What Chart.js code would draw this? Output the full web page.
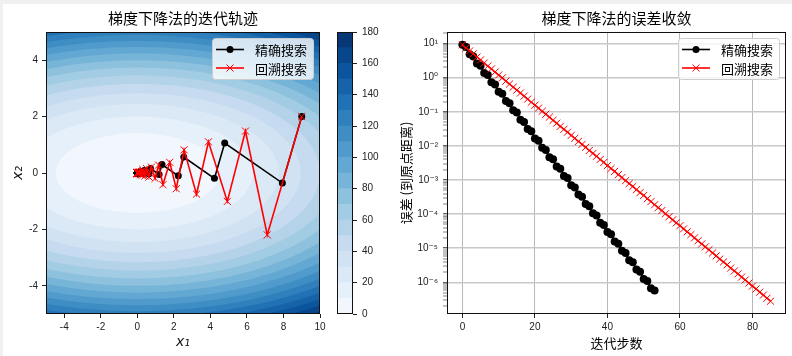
<!DOCTYPE html>
<html>
<head>
<meta charset="utf-8">
<script src="https://cdn.jsdelivr.net/npm/chart.js@4.4.1/dist/chart.umd.min.js"></script>
<style>
    body { margin: 0; background: #fff; }
    #wrap { position: relative; width: 792px; height: 356px; overflow: hidden; background: #fff; }
    #wrap canvas { position: absolute; top: 0; }
    #pathChart { left: 0; }
    #barChart { left: 330px; }
    #errChart { left: 400px; }
    .edge { position: absolute; background: #f0f0f0; }
</style>
</head>
<body>
<div id="wrap">
    <canvas id="pathChart" width="330" height="356"></canvas>
    <canvas id="barChart" width="70" height="356"></canvas>
    <canvas id="errChart" width="392" height="356"></canvas>
    <div class="edge" style="left:0;top:0;width:792px;height:4px"></div>
    <div class="edge" style="left:0;top:0;width:3px;height:356px"></div>
</div>
<script>
// series labels
const exactLabel = '精确搜索';
const backtrackLabel = '回溯搜索';

// iterates of exact line search (x1, x2)
const exactX = [9, 7.9392, 4.7832, 4.2194, 2.5421, 2.2425, 1.3511, 1.1918, 0.71805, 0.63342,
    0.38162, 0.33664, 0.20282, 0.17892, 0.10779, 0.095088, 0.057288, 0.050536, 0.030447, 0.026859,
    0.016182, 0.014274, 0.0086000, 0.0075864, 0.0045707, 0.0040319, 0.0024292, 0.0021428, 0.0012910, 0.0011389,
    6.8614e-4, 6.0526e-4, 3.6466e-4, 3.2168e-4, 1.9381e-4, 1.7096e-4, 1.0300e-4, 9.0863e-5, 5.4743e-5, 4.8290e-5,
    2.9094e-5, 2.5665e-5, 1.5463e-5, 1.3640e-5, 8.2179e-6, 7.2492e-6, 4.3675e-6, 3.8527e-6, 2.3212e-6, 2.0476e-6,
    1.2337e-6, 1.0882e-6, 6.5565e-7, 5.7837e-7];
const exactY = [2, -0.35727, 1.0629, -0.18988, 0.56492, -0.10091, 0.30024, -0.053632, 0.15957, -0.028504,
    0.084804, -0.015149, 0.045071, -0.0080511, 0.023954, -0.0042790, 0.012731, -0.0022741, 0.0067660, -0.0012086,
    0.0035959, -6.4235e-4, 0.0019111, -3.4139e-4, 0.0010157, -1.8144e-4, 5.3981e-4, -9.6428e-5, 2.8689e-4, -5.1249e-5,
    1.5248e-4, -2.7237e-5, 8.1036e-5, -1.4476e-5, 4.3068e-5, -7.6934e-6, 2.2889e-5, -4.0888e-6, 1.2165e-5, -2.1731e-6,
    6.4653e-6, -1.1549e-6, 3.4361e-6, -6.1380e-7, 1.8262e-6, -3.2622e-7, 9.7056e-7, -1.7337e-7, 5.1583e-7, -9.2142e-8,
    2.7415e-7, -4.8971e-8, 1.4570e-7, -2.6027e-8];

// iterates of backtracking line search (x1, x2)
const backX = [9, 7.1126, 5.9193, 4.9262, 3.8931, 3.2399, 2.5605, 2.1309, 1.7734, 1.4015,
    1.1664, 0.97067, 0.76711, 0.63841, 0.50453, 0.41988, 0.34944, 0.27615, 0.22982, 0.18163,
    0.15115, 0.12580, 0.099414, 0.082735, 0.068854, 0.054414, 0.045285, 0.035788, 0.029784, 0.024787,
    0.019589, 0.016303, 0.012884, 0.010722, 0.0089233, 0.0070520, 0.0058689, 0.0048843, 0.0038600, 0.0032124,
    0.0025387, 0.0021128, 0.0017583, 0.0013896, 0.0011565, 9.1396e-4, 7.6063e-4, 6.3302e-4, 5.0027e-4, 4.1634e-4,
    3.4649e-4, 2.7383e-4, 2.2789e-4, 1.8010e-4, 1.4988e-4, 1.2473e-4, 9.8572e-5, 8.2034e-5, 6.4830e-5, 5.3953e-5,
    4.4901e-5, 3.5485e-5, 2.9532e-5, 2.4577e-5, 1.9423e-5, 1.6164e-5, 1.2774e-5, 1.0631e-5, 8.8474e-6, 6.9920e-6,
    5.8189e-6, 4.5986e-6, 3.8271e-6, 3.1850e-6, 2.5171e-6, 2.0948e-6, 1.7434e-6, 1.3778e-6, 1.1466e-6, 9.0614e-7,
    7.5412e-7, 6.2760e-7, 4.9598e-7, 4.1277e-7, 3.2621e-7, 2.7148e-7];
const backY = [2, -2.1943, 1.4872, -1.0079, 1.1058, -0.7494, 0.8223, -0.5573, 0.3777, -0.4144,
    0.2808, -0.1903, 0.2088, -0.1415, 0.1553, -0.1052, 0.0713, -0.0782, 0.0530, -0.0582,
    0.0394, -0.0267, 0.0293, -0.0199, 0.0135, -0.0148, 0.010014, -0.010987, 0.0074463, -0.0050465,
    0.0055370, -0.0037527, 0.0041173, -0.0027903, 0.0018911, -0.0020749, 0.0014062, -9.5302e-4, 1.0456e-3, -7.0862e-4,
    7.7750e-4, -5.2693e-4, 3.5711e-4, -3.9180e-4, 2.6556e-4, -2.9135e-4, 1.9746e-4, -1.3383e-4, 1.4683e-4, -9.9509e-5,
    6.7444e-5, -7.3994e-5, 5.0147e-5, -5.5024e-5, 3.7289e-5, -2.5270e-5, 2.7724e-5, -1.8791e-5, 2.0616e-5, -1.3972e-5,
    9.4696e-6, -1.0390e-5, 7.0413e-6, -4.7724e-6, 5.2357e-6, -3.5482e-6, 3.8933e-6, -2.6384e-6, 1.7881e-6, -1.9617e-6,
    1.3296e-6, -1.4588e-6, 9.8869e-7, -6.7009e-7, 7.3520e-7, -4.9825e-7, 3.3771e-7, -3.7049e-7, 2.5107e-7, -2.7550e-7,
    1.8670e-7, -1.2654e-7, 1.3882e-7, -9.4087e-8, 1.0323e-7, -6.9964e-8];

// distance to the origin per iteration
const exactError = [9.2195, 7.9473, 4.8999, 4.2237, 2.6041, 2.2448, 1.3840, 1.1930, 0.73556, 0.63406,
    0.39093, 0.33698, 0.20777, 0.17910, 0.11042, 0.095183, 0.058686, 0.050587, 0.031190, 0.026886,
    0.016576, 0.014289, 0.0088098, 0.0075941, 0.0046821, 0.0040360, 0.0024884, 0.0021450, 0.0013225, 0.0011400,
    7.0288e-4, 6.0588e-4, 3.7356e-4, 3.2201e-4, 1.9853e-4, 1.7114e-4, 1.0552e-4, 9.0954e-5, 5.6078e-5, 4.8339e-5,
    2.9804e-5, 2.5691e-5, 1.5840e-5, 1.3654e-5, 8.4184e-6, 7.2566e-6, 4.4741e-6, 3.8567e-6, 2.3778e-6, 2.0497e-6,
    1.2637e-6, 1.0893e-6, 6.7165e-7, 5.7896e-7];
const backError = [9.2195, 7.4433, 6.1032, 5.0282, 4.0471, 3.3255, 2.6893, 2.2026, 1.8132, 1.4615,
    1.1997, 0.98915, 0.79502, 0.65391, 0.52788, 0.43287, 0.35664, 0.28703, 0.23586, 0.19072,
    0.15621, 0.12860, 0.10365, 0.085088, 0.070159, 0.056385, 0.046379, 0.037437, 0.030701, 0.025295,
    0.020357, 0.016729, 0.013526, 0.011079, 0.0091215, 0.0073509, 0.0060350, 0.0049764, 0.0039991, 0.0032896,
    0.0026551, 0.0021775, 0.0017942, 0.0014438, 0.0011866, 9.5927e-4, 7.8585e-4, 6.4702e-4, 5.2138e-4, 4.2807e-4,
    3.5299e-4, 2.8365e-4, 2.3334e-4, 1.8832e-4, 1.5445e-4, 1.2726e-4, 1.0240e-4, 8.4159e-5, 6.8029e-5, 5.5733e-5,
    4.5889e-5, 3.6975e-5, 3.0360e-5, 2.5036e-5, 2.0116e-5, 1.6549e-5, 1.3354e-5, 1.0954e-5, 9.0263e-6, 7.2620e-6,
    5.9689e-6, 4.8244e-6, 3.9527e-6, 3.2547e-6, 2.6223e-6, 2.1532e-6, 1.7758e-6, 1.4267e-6, 1.1738e-6, 9.4710e-7,
    7.7689e-7, 6.4023e-7, 5.1504e-7, 4.2336e-7, 3.4216e-7, 2.8035e-7];

// contour levels of f = 0.5*x1^2 + 5*x2^2 and their Blues colours
const quadA = 0.5;
const quadB = 5;
const bandLevels = [0, 10, 20, 30, 40, 50, 60, 70, 80, 90, 100, 110, 120, 130, 140, 150, 160, 170, 180];
const bandColors = ['rgb(241,247,253)', 'rgb(230,240,250)', 'rgb(219,233,246)', 'rgb(209,226,243)',
    'rgb(198,219,239)', 'rgb(180,211,233)', 'rgb(162,204,227)', 'rgb(141,193,221)', 'rgb(118,180,216)',
    'rgb(98,168,210)', 'rgb(80,155,203)', 'rgb(62,142,196)', 'rgb(48,128,189)', 'rgb(33,113,181)',
    'rgb(22,99,170)', 'rgb(11,85,159)', 'rgb(8,70,140)', 'rgb(8,55,118)'];

// tick labels
const pathXTicks = [-4, -2, 0, 2, 4, 6, 8, 10];
const pathYTicks = [-4, -2, 0, 2, 4];
const colorbarTicks = [0, 20, 40, 60, 80, 100, 120, 140, 160, 180];
const iterTicks = [0, 20, 40, 60, 80];
const logTickValues = [1e-6, 1e-5, 1e-4, 1e-3, 1e-2, 1e-1, 1, 10];
const logTickLabels = ['10⁻⁶', '10⁻⁵', '10⁻⁴', '10⁻³', '10⁻²', '10⁻¹', '10⁰', '10¹'];

const CJK_FONT = '"Noto Sans CJK SC", sans-serif';
const TICK_FAMILY = "'Liberation Sans', 'DejaVu Sans', sans-serif";
const tickFont = { family: TICK_FAMILY, size: 10 };

function drawMarker(ctx, marker, x, y, color) {
    ctx.save();
    if (marker === 'circle') {
        ctx.fillStyle = color;
        ctx.beginPath();
        ctx.arc(x, y, 3.5, 0, Math.PI * 2);
        ctx.fill();
    } else {
        ctx.strokeStyle = color;
        ctx.lineWidth = 1;
        ctx.beginPath();
        ctx.moveTo(x - 3.5, y - 3.5); ctx.lineTo(x + 3.5, y + 3.5);
        ctx.moveTo(x - 3.5, y + 3.5); ctx.lineTo(x + 3.5, y - 3.5);
        ctx.stroke();
    }
    ctx.restore();
}

function drawLegend(chart) {
    const ctx = chart.ctx;
    const a = chart.chartArea;
    const w = 101, h = 41;
    const x = Math.round(a.right - 7 - w), y = Math.round(a.top + 6);
    ctx.save();
    ctx.fillStyle = 'rgba(255,255,255,0.8)';
    ctx.strokeStyle = '#cccccc';
    ctx.lineWidth = 1;
    ctx.beginPath();
    ctx.roundRect(x + 0.5, y + 0.5, w, h, 3);
    ctx.fill();
    ctx.stroke();
    chart.data.datasets.forEach(function(ds, i) {
        const cy = y + 11.5 + i * 18.5;
        ctx.strokeStyle = ds.borderColor;
        ctx.lineWidth = 1.6;
        ctx.beginPath();
        ctx.moveTo(x + 4, cy);
        ctx.lineTo(x + 32, cy);
        ctx.stroke();
        drawMarker(ctx, ds.pointStyle === 'circle' ? 'circle' : 'cross', x + 18, cy, ds.borderColor);
        ctx.fillStyle = '#000';
        ctx.font = '13px ' + CJK_FONT;
        ctx.textAlign = 'left';
        ctx.textBaseline = 'middle';
        ctx.fillText(ds.label, x + 43, cy + 1);
    });
    ctx.restore();
}

// frame, title and legend on top of each panel
const panelDecor = {
    id: 'panelDecor',
    afterDraw: function(chart, args, opts) {
        const ctx = chart.ctx;
        const a = chart.chartArea;
        ctx.save();
        ctx.strokeStyle = '#111';
        ctx.lineWidth = 1;
        ctx.strokeRect(a.left + 0.5, a.top + 0.5, a.right - a.left - 1, a.bottom - a.top - 1);
        if (opts.title) {
            ctx.fillStyle = '#000';
            ctx.font = '15px ' + CJK_FONT;
            ctx.textAlign = 'center';
            ctx.textBaseline = 'middle';
            ctx.fillText(opts.title, (a.left + a.right) / 2, 18);
        }
        ctx.restore();
        if (opts.legend) drawLegend(chart);
    }
};

// filled contours of the quadratic under the iterates
const contourFill = {
    id: 'contourFill',
    beforeDatasetsDraw: function(chart) {
        const ctx = chart.ctx;
        const a = chart.chartArea;
        const xs = chart.scales.x, ys = chart.scales.y;
        ctx.save();
        ctx.beginPath();
        ctx.rect(a.left, a.top, a.right - a.left, a.bottom - a.top);
        ctx.clip();
        ctx.fillStyle = bandColors[bandColors.length - 1];
        ctx.fillRect(a.left, a.top, a.right - a.left, a.bottom - a.top);
        const cx = xs.getPixelForValue(0), cy = ys.getPixelForValue(0);
        for (let i = bandLevels.length - 2; i >= 1; i--) {
            const L = bandLevels[i];
            const rx = Math.abs(xs.getPixelForValue(Math.sqrt(L / quadA)) - cx);
            const ry = Math.abs(ys.getPixelForValue(Math.sqrt(L / quadB)) - cy);
            ctx.fillStyle = bandColors[i - 1];
            ctx.beginPath();
            ctx.ellipse(cx, cy, rx, ry, 0, 0, Math.PI * 2);
            ctx.fill();
        }
        ctx.restore();
    }
};

function toPoints(xs, ys) {
    return xs.map(function(v, i) { return { x: v, y: ys[i] }; });
}

function tickGrid() {
    return { drawOnChartArea: false, drawTicks: true, tickLength: 4, color: '#222', tickColor: '#222' };
}

const commonOptions = {
    animation: false,
    responsive: false,
    devicePixelRatio: 1,
    events: []
};

// left panel: iterates over the contour plot
new Chart(document.getElementById('pathChart'), {
    type: 'scatter',
    data: {
        datasets: [{
            label: exactLabel,
            data: toPoints(exactX, exactY),
            showLine: true,
            borderColor: '#000000',
            backgroundColor: '#000000',
            borderWidth: 1.6,
            pointStyle: 'circle',
            pointRadius: 3.5,
            pointBorderWidth: 0,
            order: 2
        }, {
            label: backtrackLabel,
            data: toPoints(backX, backY),
            showLine: true,
            borderColor: '#ff0000',
            backgroundColor: '#ff0000',
            borderWidth: 1.6,
            pointStyle: 'crossRot',
            pointRadius: 5,
            pointBorderWidth: 1,
            order: 1
        }]
    },
    options: Object.assign({}, commonOptions, {
        layout: { padding: { left: 0, right: 10, top: 32, bottom: 0 } },
        plugins: {
            legend: { display: false },
            tooltip: { enabled: false },
            panelDecor: { title: '梯度下降法的迭代轨迹', legend: true }
        },
        scales: {
            x: {
                type: 'linear', min: -5, max: 10,
                afterBuildTicks: function(s) { s.ticks = pathXTicks.map(function(v) { return { value: v }; }); },
                afterFit: function(s) { s.height = 42; },
                ticks: { font: tickFont, color: '#222', padding: 3, maxRotation: 0 },
                grid: tickGrid(),
                border: { display: false },
                title: { display: true, text: 'x₁', color: '#111', font: { family: "'DejaVu Sans'", size: 14, style: 'italic' }, padding: { top: 0, bottom: 5 } }
            },
            y: {
                type: 'linear', min: -5, max: 5,
                afterBuildTicks: function(s) { s.ticks = pathYTicks.map(function(v) { return { value: v }; }); },
                afterFit: function(s) { s.width = 46; },
                ticks: { font: tickFont, color: '#222', padding: 4 },
                grid: tickGrid(),
                border: { display: false },
                title: { display: true, text: 'x₂', color: '#111', font: { family: "'DejaVu Sans'", size: 14, style: 'italic' }, padding: { top: 10, bottom: 0 } }
            }
        }
    }),
    plugins: [contourFill, panelDecor]
});

// colour bar as stacked cells
new Chart(document.getElementById('barChart'), {
    type: 'bar',
    data: {
        labels: [''],
        datasets: bandColors.map(function(c, i) {
            return {
                data: [bandLevels[i + 1] - bandLevels[i]],
                backgroundColor: c,
                borderWidth: 0,
                barPercentage: 1,
                categoryPercentage: 1
            };
        })
    },
    options: Object.assign({}, commonOptions, {
        layout: { padding: { left: 7, right: 0, top: 32, bottom: 42 } },
        plugins: { legend: { display: false }, tooltip: { enabled: false }, panelDecor: {} },
        scales: {
            x: { display: false, stacked: true },
            y: {
                stacked: true, position: 'right', min: 0, max: 180,
                afterBuildTicks: function(s) { s.ticks = colorbarTicks.map(function(v) { return { value: v }; }); },
                afterFit: function(s) { s.width = 47; },
                ticks: { font: tickFont, color: '#222', padding: 5 },
                grid: tickGrid(),
                border: { display: false }
            }
        }
    }),
    plugins: [panelDecor]
});

// right panel: error against iteration on a log axis
const errMin = 1.18e-7;
const errMax = 21.9;
const logTicks = [];
for (let e = -7; e <= 1; e++) {
    for (let s = 1; s <= 9; s++) {
        const v = s * Math.pow(10, e);
        if (v < errMin || v > errMax) continue;
        const idx = logTickValues.findIndex(function(t) { return Math.abs(t - v) / t < 1e-9; });
        logTicks.push({ value: v, major: s === 1, label: idx >= 0 ? logTickLabels[idx] : '' });
    }
}

new Chart(document.getElementById('errChart'), {
    type: 'scatter',
    data: {
        datasets: [{
            label: exactLabel,
            data: exactError.map(function(v, i) { return { x: i, y: v }; }),
            showLine: true,
            borderColor: '#000000',
            backgroundColor: '#000000',
            borderWidth: 1.6,
            pointStyle: 'circle',
            pointRadius: 4,
            pointBorderWidth: 0,
            order: 2
        }, {
            label: backtrackLabel,
            data: backError.map(function(v, i) { return { x: i, y: v }; }),
            showLine: true,
            borderColor: '#ff0000',
            backgroundColor: '#ff0000',
            borderWidth: 1.6,
            pointStyle: 'crossRot',
            pointRadius: 5,
            pointBorderWidth: 1,
            order: 1
        }]
    },
    options: Object.assign({}, commonOptions, {
        layout: { padding: { left: 0, right: 3, top: 32, bottom: 0 } },
        plugins: {
            legend: { display: false },
            tooltip: { enabled: false },
            panelDecor: { title: '梯度下降法的误差收敛', legend: true }
        },
        scales: {
            x: {
                type: 'linear', min: -4.25, max: 89.25,
                afterBuildTicks: function(s) { s.ticks = iterTicks.map(function(v) { return { value: v }; }); },
                afterFit: function(s) { s.height = 42; },
                ticks: { font: tickFont, color: '#222', padding: 3, maxRotation: 0 },
                grid: { drawOnChartArea: true, drawTicks: true, tickLength: 4, color: '#b8b8b8', tickColor: '#222', lineWidth: 1 },
                border: { display: false },
                title: { display: true, text: '迭代步数', color: '#000', font: { family: CJK_FONT, size: 13, lineHeight: 1.2 }, padding: { top: 0, bottom: 5 } }
            },
            y: {
                type: 'logarithmic', min: errMin, max: errMax,
                afterBuildTicks: function(s) { s.ticks = logTicks.map(function(t) { return { value: t.value, major: t.major }; }); },
                afterFit: function(s) { s.width = 47; },
                ticks: {
                    font: tickFont, color: '#222', padding: 5, autoSkip: false,
                    callback: function(value, index) { return logTicks[index] ? logTicks[index].label : ''; }
                },
                grid: {
                    drawOnChartArea: true, drawTicks: true, tickLength: 4,
                    color: function(c) { return c.tick && c.tick.major ? '#c8c8c8' : 'rgba(0,0,0,0)'; },
                    lineWidth: function(c) { return c.tick && c.tick.major ? 1.5 : 0; },
                    tickColor: '#333',
                    tickWidth: function(c) { return c.tick && c.tick.major ? 1 : 0.6; }
                },
                border: { display: false },
                title: { display: true, text: '误差 (到原点距离)', color: '#000', font: { family: CJK_FONT, size: 13, lineHeight: 1 }, padding: { top: 0, bottom: 0 } }
            }
        }
    }),
    plugins: [panelDecor]
});
</script>
</body>
</html>
